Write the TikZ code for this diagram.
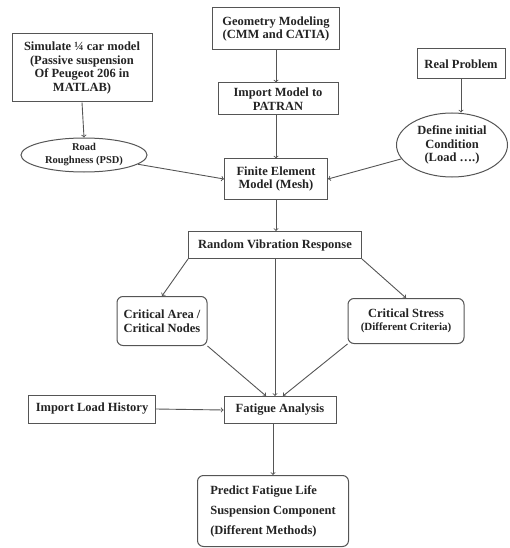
\documentclass[tikz,border=0pt]{standalone}
\usepackage{fontspec}
\setmainfont{Liberation Serif}
\usepackage{tikz}
\usetikzlibrary{shapes.geometric}
\definecolor{linegray}{RGB}{85,85,85}
\definecolor{textgray}{RGB}{35,35,35}
\tikzset{
    box/.style={draw=linegray, line width=1pt, align=center, inner sep=1pt,
        text=textgray, font=\fontsize{12.5}{13.5}\selectfont\bfseries},
    rbox/.style={box, rounded corners=6pt},
    oval/.style={box, ellipse, inner sep=-2pt},
    arr/.style={->, draw=linegray, line width=0.9pt},
}

\begin{document}
\begin{tikzpicture}[x=1pt,y=-1pt]
\useasboundingbox (0,0) rectangle (509,548);
\node[box, minimum width=140pt, minimum height=68pt] (sim) at (82,68) {Simulate ¼ car model\\(Passive suspension\\Of Peugeot 206 in\\MATLAB)};
\node[oval, minimum width=126pt, minimum height=34pt, font=\fontsize{10.5}{13}\selectfont\bfseries] (road) at (84,155) {Road\\Roughness (PSD)};
\node[box, minimum width=127pt, minimum height=42pt] (geom) at (276,29) {Geometry Modeling\\(CMM and CATIA)};
\node[box, minimum width=120pt, minimum height=32pt] (imp) at (278,99) {Import Model to\\PATRAN};
\node[box, minimum width=103pt, minimum height=40pt] (fem) at (276,179) {Finite Element\\Model (Mesh)};
\node[box, minimum width=88pt, minimum height=30pt] (real) at (461,64) {Real Problem};
\node[oval, minimum width=111pt, minimum height=64pt] (def) at (452,145) {Define initial\\Condition\\(Load ….)};
\node[box, minimum width=173pt, minimum height=27pt] (rvr) at (275,245) {Random Vibration Response};
\node[rbox, minimum width=90pt, minimum height=49pt, align=left] (area) at (162,321) {Critical Area /\\Critical Nodes};
\node[rbox, minimum width=116pt, minimum height=45pt] (stress) at (406,321) {Critical Stress\\{\fontsize{11}{13}\selectfont(Different Criteria)}};
\node[box, minimum width=112pt, minimum height=27pt] (fat) at (280,410) {Fatigue Analysis};
\node[box, minimum width=127pt, minimum height=28pt] (ilh) at (92,409) {Import Load History};
\node[rbox, minimum width=151pt, minimum height=71pt, align=left, font=\fontsize{12.5}{20}\selectfont\bfseries] (pred) at (273,511) {Predict Fatigue Life\\Suspension Component\\(Different Methods)};
\draw[arr] (sim.south) -- (road.north);
\draw[arr] (geom.south) -- (geom.south |- imp.north);
\draw[arr] (imp.south -| fem.north) -- (fem.north);
\draw[arr] (real.south) -- (real.south |- def.north);
\draw[arr] (road) -- (fem.west);
\draw[arr] (def) -- (fem.east);
\draw[arr] (fem.south) -- (fem.south |- rvr.north);
\draw[arr] (rvr.south west) -- (area.north);
\draw[arr] (rvr.south east) -- (stress.north);
\draw[arr] (rvr.south) -- (rvr.south |- fat.north);
\draw[arr] (area.south east) -- ([xshift=-9pt]rvr.south |- fat.north);
\draw[arr] (stress.south west) -- ([xshift=8pt]rvr.south |- fat.north);
\draw[arr] (ilh.east) -- (fat.west);
\draw[arr] (pred.north |- fat.south) -- (pred.north);
\end{tikzpicture}
\end{document}
